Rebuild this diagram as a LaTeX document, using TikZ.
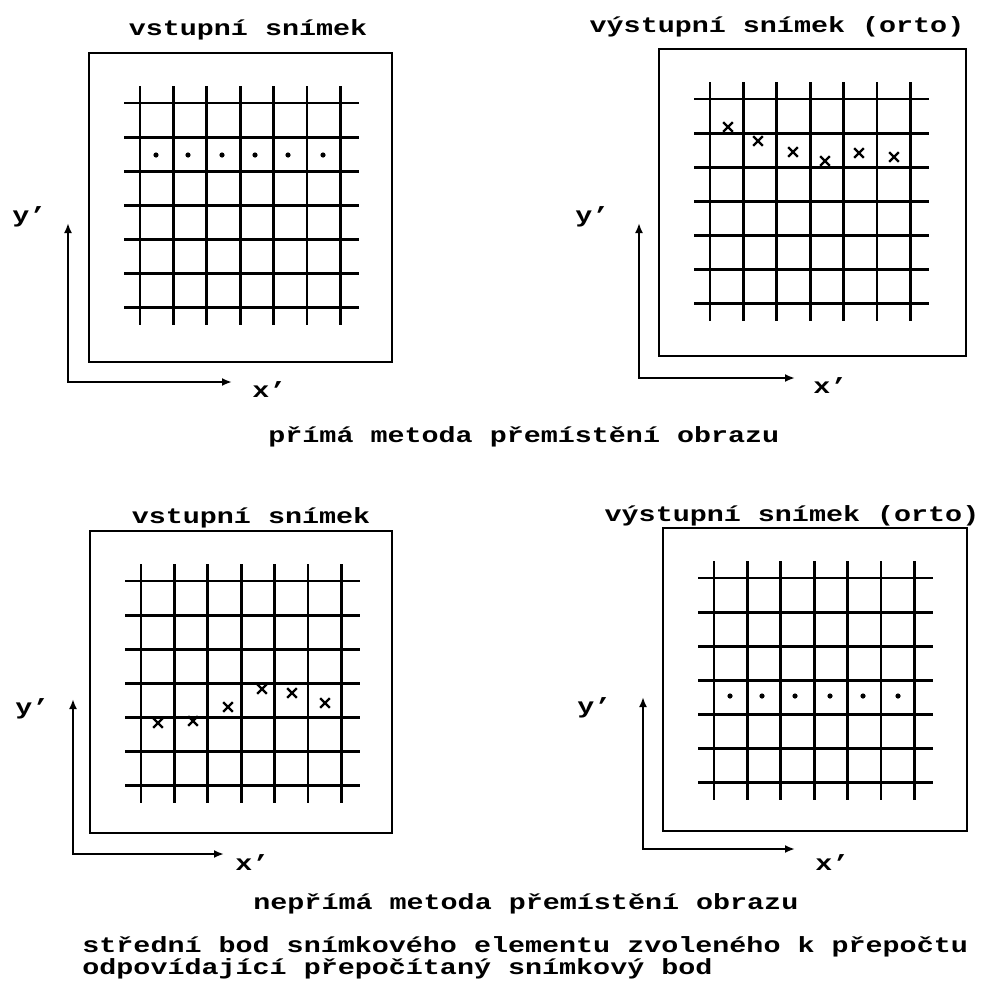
\documentclass[tikz,border=0pt]{standalone}
\usepackage{fontspec}
\setmonofont[FakeStretch=1.29]{Liberation Mono}
\usepackage{tikz}
\usetikzlibrary{arrows.meta, shapes.misc}

\begin{document}
\begin{tikzpicture}[
    x=0.5pt, y=-0.5pt,
    font=\fontsize{11}{11}\selectfont\ttfamily\bfseries,
    frm/.style={line width=1.1pt},
    gridln/.style={line width=1.4pt},
    axis/.style={{Latex[length=5pt,width=4pt]}-{Latex[length=5pt,width=4pt]}, line width=1pt},
    txt/.style={inner sep=0pt, anchor=base},
    txtl/.style={inner sep=0pt, anchor=base west},
    dot/.style={circle, fill, inner sep=0pt, minimum size=2.6pt},
    crs/.style={cross out, draw, line width=1.2pt, inner sep=0pt, minimum size=3.6pt}
]
\useasboundingbox (0,0) rectangle (982,991);

% frames and grids
\foreach \fx/\fy/\w/\h in {89/53/303/309, 659/49/307/307, 90/531/302/302, 663/528/304/303} {
    \draw[frm] (\fx,\fy) rectangle ++(\w,\h);
    \foreach \i in {0,...,6} {
        \draw[gridln] ({\fx+51+33.4*\i},{\fy+33}) -- ++(0,239);
        \draw[gridln] ({\fx+35},{\fy+50+34.1*\i}) -- ++(235,0);
    }
}

% axes
\foreach \nm/\ox/\oy/\ty/\tx in {inA/68/382/223/232, outA/639/378/223/795,
                                 inB/73/854/699/224, outB/643/849/697/795} {
    \coordinate (\nm o) at (\ox,\oy);
    \coordinate (\nm y) at (\ox,\ty);
    \coordinate (\nm x) at (\tx,\oy);
    \draw[axis] (\nm y) -- (\nm o) -- (\nm x);
}

\node[txtl] (inAyl)  at (12,222)  {y’};
\node[txtl] (inAxl)  at (252,397) {x’};
\node[txtl] (outAyl) at (575,222) {y’};
\node[txtl] (outAxl) at (813,393) {x’};
\node[txtl] (inByl)  at (15,714)  {y’};
\node[txtl] (inBxl)  at (235,870) {x’};
\node[txtl] (outByl) at (577,713) {y’};
\node[txtl] (outBxl) at (815,870) {x’};

% points
\foreach \px in {156,188,222,255,288,323}
    \node[dot] at (\px,155) {};
\foreach \px/\py in {728/127, 758/141, 793/152, 825/161, 859/153, 894/157}
    \node[crs] at (\px,\py) {};
\foreach \px/\py in {158/723, 193/721, 228/707, 262/689, 292/693, 325/703}
    \node[crs] at (\px,\py) {};
\foreach \px in {730,762,795,830,863,898}
    \node[dot] at (\px,696) {};

% titles
\node[txt] (inAt)  at (248,35)  {vstupní snímek};
\node[txt] (outAt) at (777,32)  {výstupní snímek (orto)};
\node[txt] (inBt)  at (251,523) {vstupní snímek};
\node[txt] (outBt) at (792,521) {výstupní snímek (orto)};

\node[txtl] (capA) at (268,442) {přímá metoda přemístění obrazu};
\node[txtl] (capB) at (253,909) {nepřímá metoda přemístění obrazu};
\node[txtl, align=left] (leg) at (82,974)
    {střední bod snímkového elementu zvoleného k přepočtu\\odpovídající přepočítaný snímkový bod};
\end{tikzpicture}
\end{document}
